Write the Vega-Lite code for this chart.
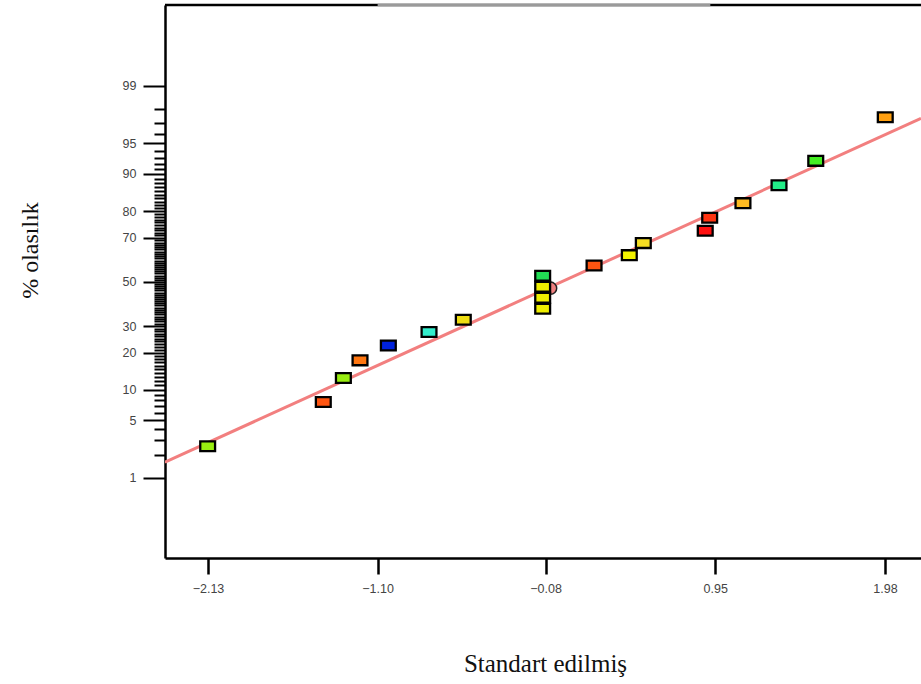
{
  "$schema": "https://vega.github.io/schema/vega-lite/v6.json",
  "width": 756,
  "height": 553,
  "autosize": "none",
  "padding": {"left": 165, "top": 5, "right": 0, "bottom": 126},
  "background": "white",
  "config": {"view": {"stroke": null}, "axis": {"grid": false}},
  "datasets": {
    "fit": [
      {"x": -2.391, "z": -2.139},
      {"x": 2.199, "z": 1.941}
    ],
    "center": [
      {"x": -0.05, "z": -0.075}
    ],
    "residuals": [
      {"run": 1, "x": -2.132, "z": -1.951},
      {"run": 2, "x": -1.430, "z": -1.425},
      {"run": 3, "x": -1.308, "z": -1.140},
      {"run": 4, "x": -1.207, "z": -0.931},
      {"run": 5, "x": -1.035, "z": -0.754},
      {"run": 6, "x": -0.788, "z": -0.595},
      {"run": 7, "x": -0.580, "z": -0.449},
      {"run": 8, "x": -0.098, "z": -0.318},
      {"run": 9, "x": -0.098, "z": -0.188},
      {"run": 10, "x": -0.098, "z": -0.058},
      {"run": 11, "x": -0.098, "z": 0.073},
      {"run": 12, "x": 0.214, "z": 0.195},
      {"run": 13, "x": 0.428, "z": 0.318},
      {"run": 14, "x": 0.513, "z": 0.461},
      {"run": 15, "x": 0.889, "z": 0.607},
      {"run": 16, "x": 0.916, "z": 0.761},
      {"run": 17, "x": 1.118, "z": 0.935},
      {"run": 18, "x": 1.337, "z": 1.148},
      {"run": 19, "x": 1.560, "z": 1.437},
      {"run": 20, "x": 1.982, "z": 1.955}
    ]
  },
  "layer": [
    {
      "data": {"name": "fit"},
      "mark": {"type": "line", "color": "#f27f7f", "strokeWidth": 3, "clip": true},
      "encoding": {
        "x": {
          "field": "x", "type": "quantitative",
          "scale": {"domain": [-2.391, 2.199], "nice": false, "zero": false},
          "axis": {
            "title": "Standart edilmiş",
            "values": [-2.13, -1.10, -0.08, 0.95, 1.98],
            "tickCount": 100,
            "format": ".2f",
            "tickSize": 16, "tickWidth": 2.5, "tickColor": "black",
            "domainColor": "black", "domainWidth": 2.5,
            "labelFont": "Liberation Sans", "labelFontSize": 12.5, "labelColor": "#444",
            "labelPadding": 8,
            "titleFont": "Liberation Serif", "titleFontSize": 25, "titleFontWeight": "normal", "titleColor": "#111",
            "titleX": 380, "titleY": 113, "titleBaseline": "alphabetic", "titleAlign": "center"
          }
        },
        "y": {
          "field": "z", "type": "quantitative",
          "scale": {"domain": [-3.277, 3.287], "nice": false, "zero": false},
          "axis": {
            "title": "% olasılık",
            "values": [-2.3263,-2.0537,-1.8808,-1.7507,-1.6449,-1.5548,-1.4758,-1.4051,-1.3408,-1.2816,-1.2265,-1.1750,-1.1264,-1.0803,-1.0364,-0.9945,-0.9542,-0.9154,-0.8779,-0.8416,-0.8064,-0.7722,-0.7388,-0.7063,-0.6745,-0.6433,-0.6128,-0.5828,-0.5534,-0.5244,-0.4959,-0.4677,-0.4399,-0.4125,-0.3853,-0.3585,-0.3319,-0.3055,-0.2793,-0.2533,-0.2275,-0.2019,-0.1764,-0.1510,-0.1257,-0.1004,-0.0753,-0.0502,-0.0251,0,0.0251,0.0502,0.0753,0.1004,0.1257,0.1510,0.1764,0.2019,0.2275,0.2533,0.2793,0.3055,0.3319,0.3585,0.3853,0.4125,0.4399,0.4677,0.4959,0.5244,0.5534,0.5828,0.6128,0.6433,0.6745,0.7063,0.7388,0.7722,0.8064,0.8416,0.8779,0.9154,0.9542,0.9945,1.0364,1.0803,1.1264,1.1750,1.2265,1.2816,1.3408,1.4051,1.4758,1.5548,1.6449,1.7507,1.8808,2.0537,2.3263],
            "tickCount": 1000,
            "labelExpr": "indexof([1,5,10,20,30,50,70,80,90,95,99], round(cumulativeNormal(datum.value,0,1)*100)) >= 0 ? format(round(cumulativeNormal(datum.value,0,1)*100),'d') : ''",
            "tickSize": {"condition": {"test": "indexof([1,5,10,20,30,50,70,80,90,95,99], round(cumulativeNormal(datum.value,0,1)*100)) >= 0", "value": 22}, "value": 11},
            "tickWidth": 2, "tickColor": "black",
            "domainColor": "black", "domainWidth": 2.5,
            "labelFont": "Liberation Sans", "labelFontSize": 12.5, "labelColor": "#444",
            "labelPadding": 7, "labelOverlap": false,
            "titleFont": "Liberation Serif", "titleFontSize": 24, "titleFontWeight": "normal", "titleColor": "#111",
            "titleAngle": -90, "titleX": -128, "titleY": 245, "titleBaseline": "alphabetic", "titleAlign": "center"
          }
        }
      }
    },
    {
      "data": {"name": "center"},
      "mark": {"type": "point", "shape": "circle", "filled": true, "fill": "#f08080", "stroke": "#222", "strokeWidth": 1.5, "size": 150, "opacity": 1},
      "encoding": {
        "x": {"field": "x", "type": "quantitative"},
        "y": {"field": "z", "type": "quantitative"}
      }
    },
    {
      "data": {"name": "residuals"},
      "mark": {"type": "point", "shape": "M-1,-0.66L1,-0.66L1,0.66L-1,0.66Z", "filled": true, "stroke": "black", "strokeWidth": 2.3, "size": 220, "opacity": 1},
      "encoding": {
        "x": {"field": "x", "type": "quantitative"},
        "y": {"field": "z", "type": "quantitative"},
        "fill": {
          "field": "run", "type": "nominal",
          "scale": {
            "domain": [1,2,3,4,5,6,7,8,9,10,11,12,13,14,15,16,17,18,19,20],
            "range": ["#99ee11","#ff5511","#99ee11","#ff7711","#0022dd","#33eecc","#eedd11","#eeee00","#eeee00","#eeee00","#22dd55","#ff5511","#f2f200","#f5dd22","#ff1111","#ff3311","#ffbb22","#22ee88","#44ee22","#ffa011"]
          },
          "legend": null
        }
      }
    },
    {
      "data": {"values": [{}]},
      "mark": {"type": "rule", "color": "black", "strokeWidth": 2.5},
      "encoding": {"y": {"datum": 3.287}}
    },
    {
      "data": {"values": [{}]},
      "mark": {"type": "rule", "color": "#9a9a9a", "strokeWidth": 2.5},
      "encoding": {"x": {"datum": -1.1}, "x2": {"datum": 0.92}, "y": {"datum": 3.287}}
    }
  ]
}
